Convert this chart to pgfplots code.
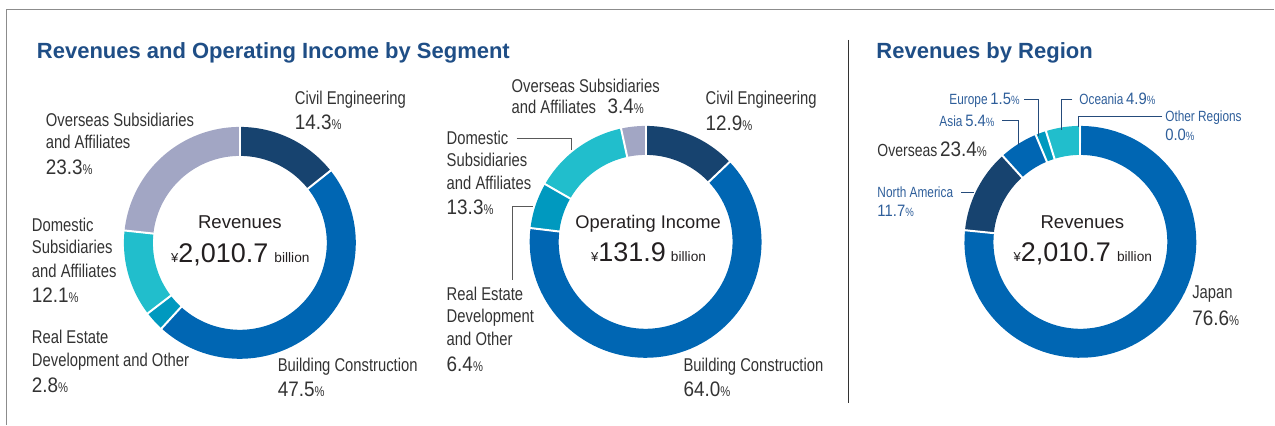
\documentclass[border=0pt]{standalone}
\usepackage{fontspec}
\setmainfont{Liberation Sans}
\newfontfamily\cond[FakeStretch=0.8]{Liberation Sans}
\newfontfamily\condn[FakeStretch=0.9]{Liberation Sans}
\usepackage{pgfplots}
\pgfplotsset{compat=1.18}
\tikzset{every node/.append style={inner sep=0pt, outer sep=0pt}}

\definecolor{civil}{HTML}{17436F}
\definecolor{build}{HTML}{0066B3}
\definecolor{realest}{HTML}{0099BF}
\definecolor{domestic}{HTML}{21BECC}
\definecolor{overseas}{HTML}{A2A6C4}
\definecolor{titleblue}{HTML}{1F4E86}
\definecolor{regblue}{HTML}{2E5E9A}
\definecolor{txt}{HTML}{333333}
\definecolor{ctxt}{HTML}{231F20}

\newcommand{\fs}[1]{\fontsize{#1}{#1}\selectfont}
\newcommand{\lab}[1]{{\cond\fs{18.5}#1}}
\newcommand{\pc}[1]{{\condn\fs{21}#1}{\cond\fs{14}\%}}
\newcommand{\spc}[1]{{\condn\fs{16.5}#1}{\cond\fs{12}\%}}
\newcommand{\slab}[1]{{\cond\fs{14.8}#1}}

% cx, cy, start (%), value (%), colour
\newcommand{\donutwedge}[5]{\addplot[draw=#5, line width=29pt, line join=round, domain=90-3.6*(#3+#4):90-3.6*(#3), samples=80, variable=\t] ({#1+101.5*cos(\t)},{#2-101.5*sin(\t)});}
% cx, cy, boundary (%)
\newcommand{\donutgap}[3]{\addplot[draw=white, line width=2pt, domain=84:119, samples=2, variable=\s] ({#1+\s*cos(90-3.6*(#3))},{#2-\s*sin(90-3.6*(#3))});}

\begin{document}
\begin{tikzpicture}
\begin{axis}[x=1pt, y=1pt, xmin=0, xmax=1275, ymin=0, ymax=425, y dir=reverse,
  hide axis, scale only axis, clip=false, at={(0,0)}, anchor=south west]

% frame
\addplot[draw=gray!90, line width=1.5pt] coordinates {(6.5,425) (6.5,9.5) (1275,9.5)};
\addplot[draw=black!80, line width=1pt] coordinates {(849,40) (849,403)};

% titles
\node[anchor=base west, text=titleblue, font=\bfseries\fs{22}] at (axis cs:37,58.5) {Revenues and Operating Income by Segment};
\node[anchor=base west, text=titleblue, font=\bfseries\fs{22}] at (axis cs:877,58.5) {Revenues by Region};

% ---------- Donut 1: Revenues by segment ----------
\donutwedge{240}{243}{0}{14.3}{civil}
\donutwedge{240}{243}{14.3}{47.5}{build}
\donutwedge{240}{243}{61.8}{2.8}{realest}
\donutwedge{240}{243}{64.6}{12.1}{domestic}
\donutwedge{240}{243}{76.7}{23.3}{overseas}
\donutgap{240}{243}{0}
\donutgap{240}{243}{14.3}
\donutgap{240}{243}{61.8}
\donutgap{240}{243}{64.6}
\donutgap{240}{243}{76.7}

\node[anchor=base, text=ctxt, font=\fs{18.6}] at (axis cs:240,229) {Revenues};
\node[anchor=base, text=ctxt] at (axis cs:240.5,263) {{\fs{13}¥}{\fs{27}2,010.7}\hspace{6pt}{\fs{13.7}billion}};

\begin{scope}[every node/.append style={anchor=base west, text=txt}]
\node at (axis cs:295,105) {\lab{Civil Engineering}};
\node at (axis cs:295,130) {\pc{14.3}};
\node at (axis cs:46,127) {\lab{Overseas Subsidiaries}};
\node at (axis cs:46,149) {\lab{and Affiliates}};
\node at (axis cs:46,175) {\pc{23.3}};
\node at (axis cs:32,232) {\lab{Domestic}};
\node at (axis cs:32,254) {\lab{Subsidiaries}};
\node at (axis cs:32,278) {\lab{and Affiliates}};
\node at (axis cs:32,303) {\pc{12.1}};
\node at (axis cs:32,344) {\lab{Real Estate}};
\node at (axis cs:32,367) {\lab{Development and Other}};
\node at (axis cs:32,393) {\pc{2.8}};
\node at (axis cs:278,372) {\lab{Building Construction}};
\node at (axis cs:278,397) {\pc{47.5}};
\end{scope}

% ---------- Donut 2: Operating income by segment ----------
\donutwedge{646}{242}{0}{12.9}{civil}
\donutwedge{646}{242}{12.9}{64.0}{build}
\donutwedge{646}{242}{76.9}{6.4}{realest}
\donutwedge{646}{242}{83.3}{13.3}{domestic}
\donutwedge{646}{242}{96.6}{3.4}{overseas}
\donutgap{646}{242}{0}
\donutgap{646}{242}{12.9}
\donutgap{646}{242}{76.9}
\donutgap{646}{242}{83.3}
\donutgap{646}{242}{96.6}

\node[anchor=base, text=ctxt, font=\fs{18.3}] at (axis cs:648.5,229) {Operating Income};
\node[anchor=base, text=ctxt] at (axis cs:649,262) {{\fs{13}¥}{\fs{27}131.9}\hspace{5pt}{\fs{13.7}billion}};

\addplot[draw=black!65, line width=1pt] coordinates {(517,139) (572,139) (572,150)};
\addplot[draw=black!65, line width=1pt] coordinates {(513,280) (513,207) (533,207)};

\begin{scope}[every node/.append style={anchor=base west, text=txt}]
\node at (axis cs:512,93) {\lab{Overseas Subsidiaries}};
\node at (axis cs:512,114) {\lab{and Affiliates}};
\node at (axis cs:608,114) {\pc{3.4}};
\node at (axis cs:706,105) {\lab{Civil Engineering}};
\node at (axis cs:706,131) {\pc{12.9}};
\node at (axis cs:447,145) {\lab{Domestic}};
\node at (axis cs:447,167) {\lab{Subsidiaries}};
\node at (axis cs:447,190) {\lab{and Affiliates}};
\node at (axis cs:447,215) {\pc{13.3}};
\node at (axis cs:447,301) {\lab{Real Estate}};
\node at (axis cs:447,323) {\lab{Development}};
\node at (axis cs:447,346) {\lab{and Other}};
\node at (axis cs:447,372) {\pc{6.4}};
\node at (axis cs:684,372) {\lab{Building Construction}};
\node at (axis cs:684,397) {\pc{64.0}};
\end{scope}

% ---------- Donut 3: Revenues by region ----------
\donutwedge{1081}{242}{0}{76.6}{build}
\donutwedge{1081}{242}{76.6}{11.7}{civil}
\donutwedge{1081}{242}{88.3}{5.4}{build}
\donutwedge{1081}{242}{93.7}{1.5}{realest}
\donutwedge{1081}{242}{95.2}{4.9}{domestic}
\donutgap{1081}{242}{0}
\donutgap{1081}{242}{76.6}
\donutgap{1081}{242}{88.3}
\donutgap{1081}{242}{93.7}
\donutgap{1081}{242}{95.2}

\node[anchor=base, text=ctxt, font=\fs{18.6}] at (axis cs:1083,229) {Revenues};
\node[anchor=base, text=ctxt] at (axis cs:1083.5,262) {{\fs{13}¥}{\fs{27}2,010.7}\hspace{6pt}{\fs{13.7}billion}};

\addplot[draw=regblue!80!black, line width=1pt] coordinates {(1025,100) (1039,100) (1039,136)};
\addplot[draw=regblue!80!black, line width=1pt] coordinates {(1003,121) (1019,121) (1019,145)};
\addplot[draw=regblue!80!black, line width=1pt] coordinates {(1073,100) (1062,100) (1062,130)};
\addplot[draw=regblue!80!black, line width=1pt] coordinates {(1163,117) (1079,117) (1079,127)};
\addplot[draw=regblue!80!black, line width=1pt] coordinates {(962,193) (975,193)};

\begin{scope}[every node/.append style={anchor=base west, text=regblue}]
\node at (axis cs:950,105) {\slab{Europe} \spc{1.5}};
\node at (axis cs:940,127) {\slab{Asia} \spc{5.4}};
\node at (axis cs:1080,105) {\slab{Oceania} \spc{4.9}};
\node at (axis cs:1166,122) {\slab{Other Regions}};
\node at (axis cs:1166,141) {\spc{0.0}};
\node at (axis cs:878,198) {\slab{North America}};
\node at (axis cs:878,217) {\spc{11.7}};
\end{scope}
\begin{scope}[every node/.append style={anchor=base west, text=txt}]
\node at (axis cs:878,157) {{\cond\fs{17.5}Overseas} \pc{23.4}};
\node at (axis cs:1193,299) {\lab{Japan}};
\node at (axis cs:1193,326) {\pc{76.6}};
\end{scope}
\end{axis}
\path (0,0) rectangle (1275pt,425pt);
\end{tikzpicture}
\end{document}
